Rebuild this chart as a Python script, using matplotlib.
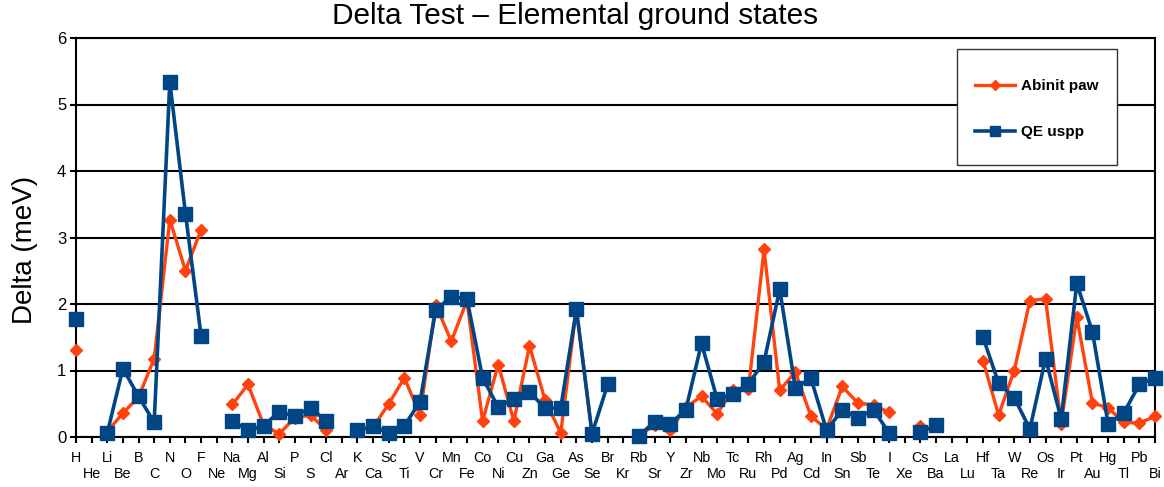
import numpy as np
import matplotlib
matplotlib.use("Agg")
import matplotlib.pyplot as plt
from matplotlib.patches import Rectangle

plt.rcParams["font.family"] = ["Liberation Sans", "DejaVu Sans"]

nan = np.nan

elements = [
    "H", "He", "Li", "Be", "B", "C", "N", "O", "F", "Ne",
    "Na", "Mg", "Al", "Si", "P", "S", "Cl", "Ar",
    "K", "Ca", "Sc", "Ti", "V", "Cr", "Mn", "Fe", "Co", "Ni", "Cu", "Zn",
    "Ga", "Ge", "As", "Se", "Br", "Kr",
    "Rb", "Sr", "Y", "Zr", "Nb", "Mo", "Tc", "Ru", "Rh", "Pd", "Ag", "Cd",
    "In", "Sn", "Sb", "Te", "I", "Xe",
    "Cs", "Ba", "La", "Lu", "Hf", "Ta", "W", "Re", "Os", "Ir", "Pt", "Au",
    "Hg", "Tl", "Pb", "Bi",
]

# Delta values in meV
abinit_paw = [
    1.31, nan, 0.08, 0.36, 0.60, 1.18, 3.27, 2.50, 3.12, nan,
    0.49, 0.79, 0.18, 0.05, 0.29, 0.33, 0.10, nan,
    0.10, 0.15, 0.50, 0.89, 0.33, 1.99, 1.44, 2.05, 0.24, 1.09, 0.24, 1.37,
    0.55, 0.06, 1.93, 0.04, nan, nan,
    0.02, 0.18, 0.10, 0.45, 0.61, 0.35, 0.71, 0.72, 2.82, 0.70, 0.98, 0.31,
    0.12, 0.76, 0.51, 0.48, 0.37, nan,
    0.16, nan, nan, nan, 1.15, 0.33, 1.00, 2.05, 2.08, 0.20, 1.80, 0.51,
    0.44, 0.22, 0.21, 0.31,
]

qe_uspp = [
    1.78, nan, 0.06, 1.03, 0.61, 0.22, 5.34, 3.36, 1.52, nan,
    0.24, 0.10, 0.17, 0.38, 0.31, 0.44, 0.24, nan,
    0.10, 0.16, 0.06, 0.17, 0.53, 1.91, 2.11, 2.08, 0.89, 0.45, 0.57, 0.68,
    0.43, 0.44, 1.92, 0.05, 0.79, nan,
    0.02, 0.23, 0.20, 0.41, 1.41, 0.57, 0.65, 0.80, 1.13, 2.22, 0.74, 0.88,
    0.10, 0.41, 0.29, 0.41, 0.06, nan,
    0.07, 0.18, nan, nan, 1.50, 0.81, 0.59, 0.12, 1.18, 0.27, 2.31, 1.58,
    0.20, 0.36, 0.79, 0.89,
]

orange = "#ff420e"
blue = "#004586"

fig = plt.figure(figsize=(11.64, 4.87), dpi=100)
W, H = 1164, 487
ax = fig.add_axes([76 / W, 1 - 437 / H, (1155 - 76) / W, (437 - 38) / H])

x = np.arange(len(elements))
ax.plot(x, abinit_paw, color=orange, lw=2.4, marker="D", ms=6.5,
        label="Abinit paw", clip_on=False, zorder=3)
ax.plot(x, qe_uspp, color=blue, lw=2.6, marker="s", ms=9.5,
        label="QE uspp", clip_on=False, zorder=4)

ax.set_xlim(0, len(elements) - 1)
ax.set_ylim(0, 6)
ax.set_yticks(range(7))
ax.yaxis.grid(True, color="black", lw=1.5, zorder=1)
ax.set_axisbelow(True)

# element names alternate between two rows: even ones on major ticks,
# odd ones on minor ticks with a larger pad
ax.set_xticks(x[::2])
ax.set_xticklabels(elements[::2], fontsize=10.3)
ax.set_xticks(x[1::2], minor=True)
ax.set_xticklabels(elements[1::2], minor=True, fontsize=10.3)
ax.tick_params(axis="x", which="major", direction="out", length=4, width=1.5, pad=6)
ax.tick_params(axis="x", which="minor", direction="out", length=4, width=1.5, pad=17.5)
ax.tick_params(axis="y", direction="out", length=4, width=1.5, pad=3,
               labelsize=12)
for s in ax.spines.values():
    s.set_linewidth(1.5)
    s.set_color("black")

ax.set_ylabel("Delta (meV)", fontsize=20, va="center")
ax.yaxis.set_label_coords((25 - 76) / 1079, (437 - 250) / 399)
fig.text(575 / W, 1 - 2 / H, "Delta Test \u2013 Elemental ground states",
         fontsize=21.4, ha="center", va="top")

# legend box drawn by hand to match the reference size
bx0, by0, bx1, by1 = 957, 49, 1117, 165
tr = ax.transAxes.inverted()
(ax0, ay1) = tr.transform((bx0, H - by0))
(ax1_, ay0) = tr.transform((bx1, H - by1))
rect = Rectangle((ax0, ay0), ax1_ - ax0, ay1 - ay0, transform=ax.transAxes,
                 facecolor="white", edgecolor="#333333", lw=1.0,
                 clip_on=False, zorder=5)
ax.add_patch(rect)
leg = ax.legend(loc="center", bbox_to_anchor=((ax0 + ax1_) / 2, (ay0 + ay1) / 2 - 0.005),
                frameon=False, prop={"weight": "bold", "size": 11},
                labelspacing=2.1, handlelength=2.6, handletextpad=0.4,
                markerscale=0.8)
leg.set_zorder(6)

fig.savefig("out.png", dpi=100)
